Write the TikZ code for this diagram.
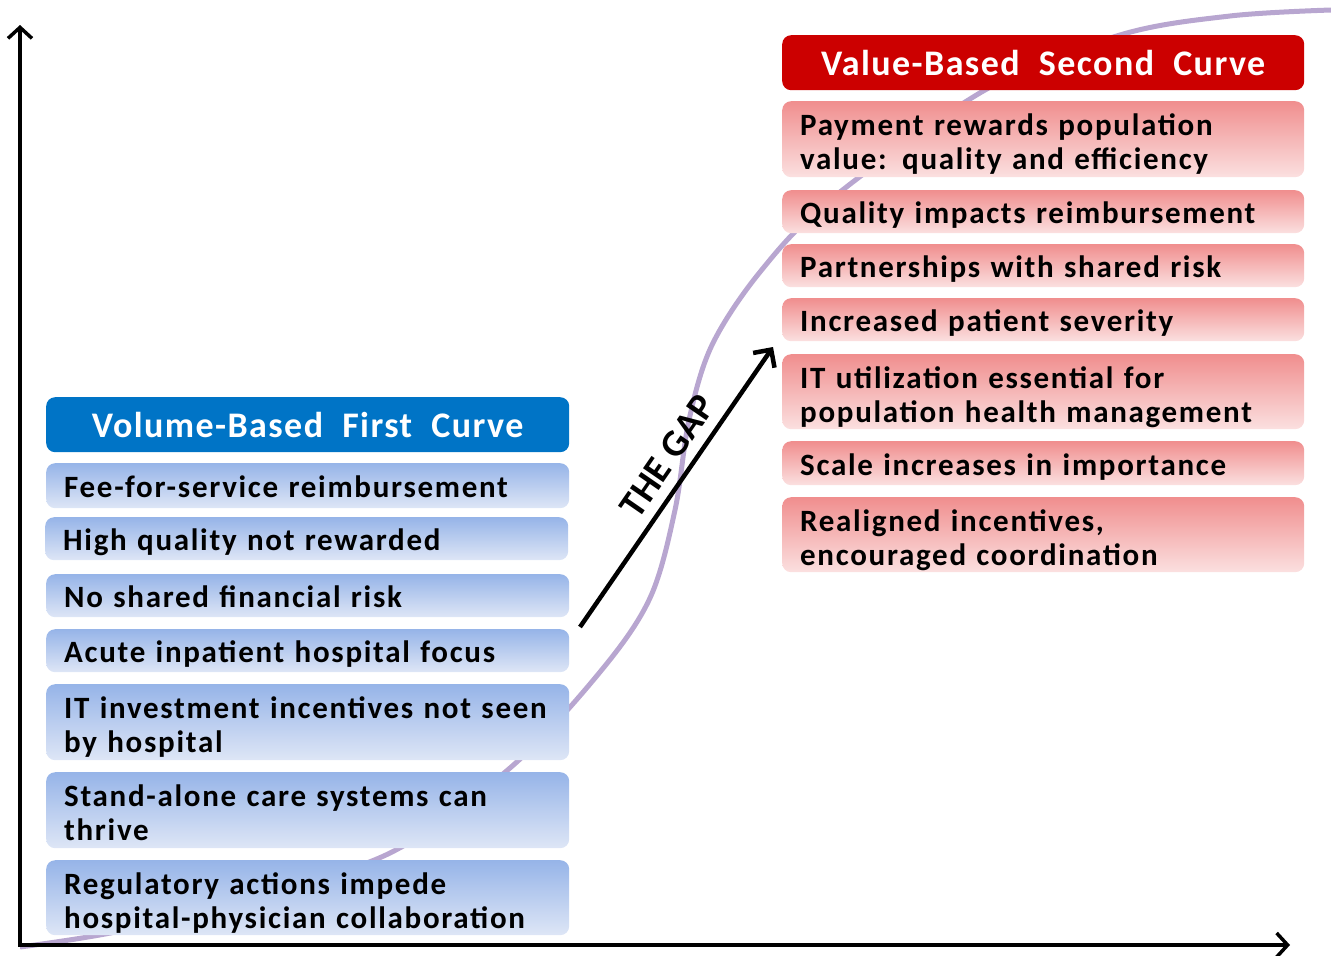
\documentclass[tikz,border=0pt]{standalone}
\usepackage{fontspec}
\setmainfont{Carlito}
\newfontfamily\itemfont[LetterSpace=5.5]{Carlito}
\newfontfamily\titlefont[LetterSpace=4]{Carlito}
\newfontfamily\gapfont[LetterSpace=1]{Carlito}
\usetikzlibrary{arrows.meta}
\definecolor{bluetitle}{RGB}{0,116,198}
\definecolor{redtitle}{RGB}{204,0,0}
\definecolor{bluetop}{RGB}{150,180,232}
\definecolor{bluebot}{RGB}{222,230,246}
\definecolor{pinktop}{RGB}{240,142,142}
\definecolor{pinkbot}{RGB}{251,224,224}
\definecolor{curvecol}{RGB}{184,166,208}
\tikzset{
  itembox/.style={anchor=north west, rounded corners=9pt, draw=none,
    minimum height=#1, inner ysep=0pt, align=left,
    font=\itemfont\bfseries\fontsize{31}{34}\selectfont, text=black},
  lbox/.style={itembox=#1, top color=bluetop, bottom color=bluebot,
    minimum width=523pt, text width=487pt, inner xsep=18pt},
  rbox/.style={itembox=#1, top color=pinktop, bottom color=pinkbot,
    minimum width=522pt, text width=486pt, inner xsep=17pt},
  oneline/.style={text height=31pt, text depth=7pt},
  twoline/.style={text height=34pt, text depth=41pt},
  titlebox/.style={anchor=north west, rounded corners=9pt, draw=none,
    minimum height=55pt, inner sep=0pt, text=white,
    font=\titlefont\bfseries\fontsize{36}{40}\selectfont},
  axisline/.style={line width=3.5pt, -{Straight Barb[length=11pt,width=24pt]}},
  gaparrow/.style={line width=4.5pt, -{Straight Barb[length=13pt,width=26pt]}},
  curveline/.style={draw=curvecol, line width=5pt},
}
\begin{document}
\begin{tikzpicture}[x=1pt,y=-1pt]
\useasboundingbox (0,0) rectangle (1331,956);
% S-curve
\draw[curveline] plot[smooth, tension=0.55] coordinates {
 (20,947) (120,931) (250,897) (390,853) (510,768) (600,672) (650,598)
 (675,510) (689,420) (712,345) (760,272) (830,200)
 (985,90) (1120,35) (1230,16) (1331,10)};
% axes
\coordinate (O) at (20,945);
\coordinate (ytip) at (20,25);
\coordinate (xtip) at (1290,945);
\draw[axisline] (O) -- (ytip);
\draw[axisline] ([xshift=-2pt]O) -- (xtip);
% left column
\node[titlebox, fill=bluetitle, minimum width=523pt] (l0) at (46,397) {Volume-Based\ \ First\ \ Curve};
\node[lbox=45pt, oneline] (l1) at (46,463) {Fee-for-service reimbursement};
\node[lbox=43pt, oneline] (l2) at (45,517) {High quality not rewarded};
\node[lbox=43pt, oneline] (l3) at (46,574) {No shared financial risk};
\node[lbox=43pt, oneline] (l4) at (46,629) {Acute inpatient hospital focus};
\node[lbox=76pt, twoline] (l5) at (46,684) {\mbox{IT investment incentives not seen}\\by hospital};
\node[lbox=76pt, twoline] (l6) at (46,772) {Stand-alone care systems can\\thrive};
\node[lbox=75pt, twoline] (l7) at (46,860) {Regulatory actions impede\\\mbox{hospital-physician collaboration}};
% right column
\node[titlebox, fill=redtitle, minimum width=522pt] (r0) at (782,35) {Value-Based\ \ Second\ \ Curve};
\node[rbox=76pt, twoline] (r1) at (782,101) {Payment rewards population\\value: quality and efficiency};
\node[rbox=43pt, oneline] (r2) at (782,190) {Quality impacts reimbursement};
\node[rbox=43pt, oneline] (r3) at (782,244) {Partnerships with shared risk};
\node[rbox=43pt, oneline] (r4) at (782,298) {Increased patient severity};
\node[rbox=75pt, twoline] (r5) at (782,354) {IT utilization essential for\\\mbox{population health management}};
\node[rbox=44pt, oneline] (r6) at (782,441) {Scale increases in importance};
\node[rbox=74pt, twoline] (r7) at (782,497) {Realigned incentives,\\encouraged coordination};
% the gap arrow
\coordinate (gs) at (580,627);
\coordinate (ge) at (773,347);
\draw[gaparrow] (gs) -- node[pos=0.56, sloped, above=10pt, inner sep=0pt, anchor=south,
  font=\gapfont\bfseries\fontsize{38}{42}\selectfont] (gap) {THE GAP} (ge);
\end{tikzpicture}
\end{document}
